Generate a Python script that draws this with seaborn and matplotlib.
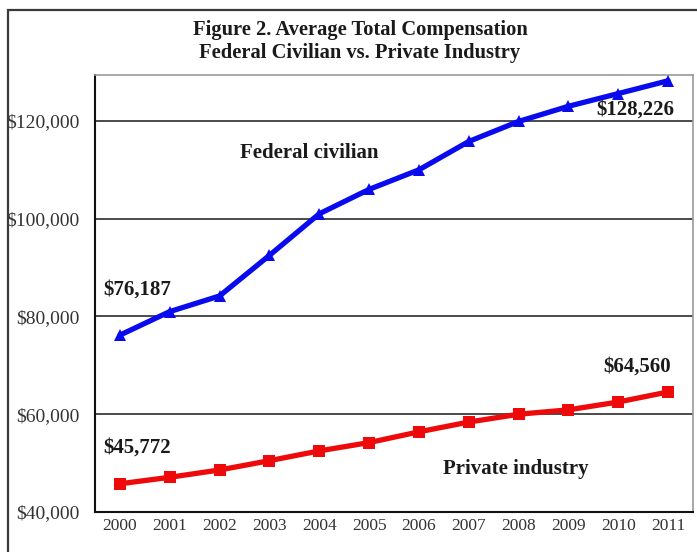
import matplotlib
matplotlib.use("Agg")
import matplotlib.pyplot as plt
from matplotlib.patches import Rectangle
import numpy as np
import pandas as pd
import seaborn as sns

# Average total compensation, federal civilian vs. private industry
years = [2000, 2001, 2002, 2003, 2004, 2005, 2006, 2007, 2008, 2009, 2010, 2011]
federal = [76187, 81000, 84200, 92500, 101000, 106000, 110000, 115800, 119900, 123000, 125600, 128226]
private = [45772, 47100, 48600, 50500, 52500, 54200, 56400, 58400, 60000, 60900, 62500, 64560]
series_names = ["Federal civilian", "Private industry"]
y_ticks = [40000, 60000, 80000, 100000, 120000]

df = pd.DataFrame({
    "pos": list(range(len(years))) * 2,
    "value": federal + private,
    "series": [series_names[0]] * len(years) + [series_names[1]] * len(years),
})

sns.set_style("white")
plt.rcParams["font.family"] = ["Liberation Serif", "DejaVu Serif"]

fig = plt.figure(figsize=(6.97, 5.52), dpi=100)
ax = fig.add_axes([95 / 697, 40 / 552, 598 / 697, 437 / 552])

sns.lineplot(
    data=df, x="pos", y="value", hue="series", style="series",
    palette={series_names[0]: "#0A0AEE", series_names[1]: "#EE0A0A"},
    markers={series_names[0]: "^", series_names[1]: "s"},
    dashes=False, linewidth=3.8, markersize=8.5, markeredgewidth=0,
    legend=False, ax=ax, zorder=3,
)

ax.set_xlim(-0.5, len(years) - 0.5)
ax.set_ylim(40000, 129400)
ax.set_xlabel("")
ax.set_ylabel("")

# category labels centred, tick marks on category boundaries
ax.set_xticks(range(len(years)))
ax.set_xticklabels([str(y) for y in years], fontsize=12.5, color="#333333")
ax.set_xticks(np.arange(-0.5, len(years)), minor=True)
ax.tick_params(axis="x", which="major", length=0, pad=4)
ax.tick_params(axis="x", which="minor", length=5, width=1.2, color="#222222", direction="out")

ax.set_yticks(y_ticks)
ax.set_yticklabels([f"${v:,.0f}" for v in y_ticks], fontsize=14, color="#333333")
ax.tick_params(axis="y", length=7, width=1.2, color="#222222", direction="out", pad=4)

ax.yaxis.grid(True, color="#1a1a1a", linewidth=1.1)
ax.set_axisbelow(True)

for side in ("left", "bottom"):
    ax.spines[side].set_color("#111111")
    ax.spines[side].set_linewidth(1.5)
for side in ("top", "right"):
    ax.spines[side].set_color("#9a9a9a")
    ax.spines[side].set_linewidth(1.2)

# end-point value labels
label_style = dict(fontsize=15, fontweight="bold", color="#1a1a1a",
                   textcoords="offset pixels", ha="center", va="center")
last = len(years) - 1
ax.annotate(f"${federal[0]:,.0f}", (0, federal[0]), xytext=(17, 46), **label_style)
ax.annotate(f"${federal[last]:,.0f}", (last, federal[last]), xytext=(-33, -29), **label_style)
ax.annotate(f"${private[0]:,.0f}", (0, private[0]), xytext=(17, 36), **label_style)
ax.annotate(f"${private[last]:,.0f}", (last, private[last]), xytext=(-31, 25), **label_style)

# series names
ax.text(3.8, 113450, series_names[0], fontsize=15, fontweight="bold",
        color="#1a1a1a", ha="center", va="center")
ax.text(7.95, 48800, series_names[1], fontsize=15, fontweight="bold",
        color="#1a1a1a", ha="center", va="center")

fig.text(0.5165, 1 - 30 / 552, "Figure 2. Average Total Compensation",
         fontsize=14.8, fontweight="bold", color="#1a1a1a", ha="center", va="center")
fig.text(0.5165, 1 - 53 / 552, "Federal Civilian vs. Private Industry",
         fontsize=14.8, fontweight="bold", color="#1a1a1a", ha="center", va="center")

# outer chart frame
fig.patches.append(Rectangle((8 / 697, -0.05), 1.0, 1.05 - 10 / 552,
                             transform=fig.transFigure, fill=False,
                             edgecolor="#3a3a3a", linewidth=1.6))

fig.savefig("out.png", dpi=100)
